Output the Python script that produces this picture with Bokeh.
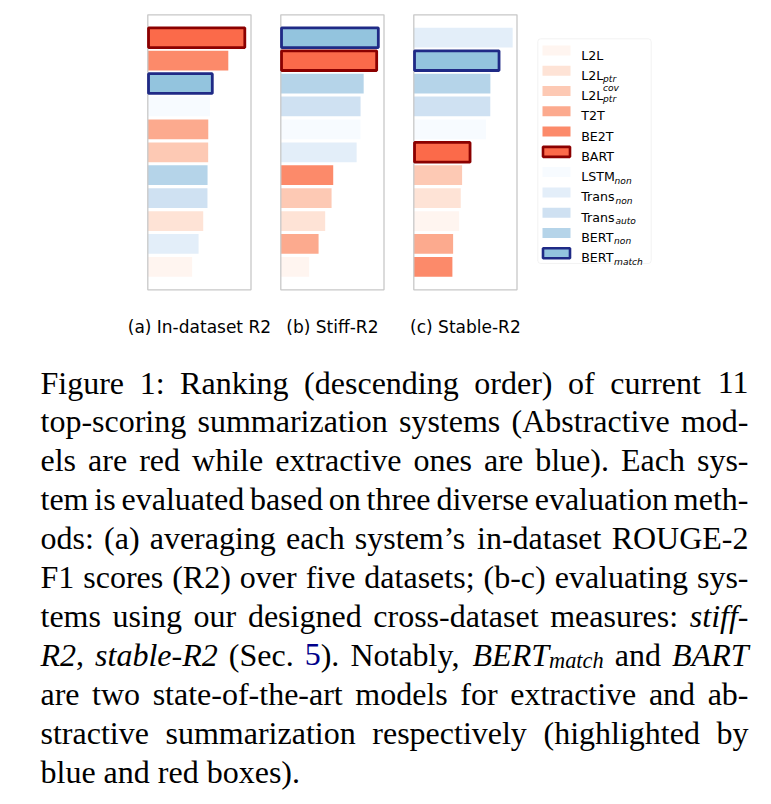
import re
from bokeh.plotting import figure
from bokeh.models import ColumnDataSource, Range1d, BoxAnnotation
from bokeh.embed import file_html
from bokeh.resources import INLINE
from bokeh.core.properties import value

# ---------------- data ----------------
SYSTEMS = ["L2L", "L2L_ptr", "L2L_ptr^cov", "T2T", "BE2T", "BART",
           "LSTM_non", "Trans_non", "Trans_auto", "BERT_non", "BERT_match"]
COLORS = ["#fff5f0", "#fee3d6", "#fdc9b4", "#fcaa8e", "#fc8a6a", "#fb6a4a",
          "#f7fbff", "#e3eef9", "#cfe1f2", "#b5d4e9", "#93c4de"]
LEG_MAIN = ["L2L", "L2L", "L2L", "T2T", "BE2T", "BART", "LSTM", "Trans", "Trans", "BERT", "BERT"]
LEG_SUB = ["", "ptr", "ptr", "", "", "", "non", "non", "auto", "non", "match"]
LEG_SUP = ["", "", "cov", "", "", "", "", "", "", "", ""]
HIGHLIGHT_SYSTEMS = ["BART", "BERT_match"]
HIGHLIGHT_EDGES = ["#8b0000", "#1f2a86"]

PANEL_TITLES = ["(a) In-dataset R2", "(b) Stiff-R2", "(c) Stable-R2"]

RANK_A = ["BART", "BE2T", "BERT_match", "LSTM_non", "T2T", "L2L_ptr^cov",
          "BERT_non", "Trans_auto", "L2L_ptr", "Trans_non", "L2L"]
VAL_A = [0.940, 0.780, 0.625, 0.602, 0.586, 0.585, 0.579, 0.578, 0.537, 0.492, 0.430]

RANK_B = ["BERT_match", "BART", "BERT_non", "Trans_auto", "LSTM_non", "Trans_non",
          "BE2T", "L2L_ptr^cov", "L2L_ptr", "T2T", "L2L"]
VAL_B = [0.945, 0.929, 0.803, 0.773, 0.772, 0.735, 0.508, 0.492, 0.430, 0.366, 0.275]

RANK_C = ["Trans_non", "BERT_match", "BERT_non", "Trans_auto", "LSTM_non", "BART",
          "L2L_ptr^cov", "L2L_ptr", "L2L", "T2T", "BE2T"]
VAL_C = [0.958, 0.826, 0.742, 0.741, 0.700, 0.545, 0.468, 0.455, 0.439, 0.381, 0.374]

CAPTION_LINES = [
    "Figure 1: Ranking (descending order) of current 11",
    "top-scoring summarization systems (Abstractive mod-",
    "els are red while extractive ones are blue). Each sys-",
    "tem is evaluated based on three diverse evaluation meth-",
    "ods: (a) averaging each system\u2019s in-dataset ROUGE-2",
    "F1 scores (R2) over five datasets; (b-c) evaluating sys-",
    "tems using our designed cross-dataset measures: /stiff-/",
    "/R2/, /stable-R2/ (Sec. [5]). Notably, /BERT/_{match} and /BART/",
    "are two state-of-the-art models for extractive and ab-",
    "stractive summarization respectively (highlighted by",
    "blue and red boxes).",
]

# ---------------- font metrics (per 1000 em) ----------------
TIMES_R = dict(zip("abcdefghijklmnopqrstuvwxyz",
                   [444, 500, 444, 500, 444, 333, 500, 500, 278, 278, 500, 278, 778,
                    500, 500, 500, 500, 333, 389, 278, 500, 500, 722, 500, 500, 444]))
TIMES_R.update(zip("ABCDEFGHIJKLMNOPQRSTUVWXYZ",
                   [722, 667, 667, 722, 611, 556, 722, 722, 333, 389, 722, 611, 889,
                    722, 722, 556, 722, 667, 556, 611, 722, 722, 944, 722, 722, 611]))
TIMES_R.update({c: 500 for c in "0123456789"})
TIMES_R.update({" ": 250, "(": 333, ")": 333, ",": 250, "-": 333, ".": 250,
                ":": 278, ";": 278, "\u2019": 333})
TIMES_I = dict(zip("abcdefghijklmnopqrstuvwxyz",
                   [500, 500, 444, 500, 444, 278, 500, 500, 278, 278, 444, 278, 722,
                    500, 500, 500, 500, 389, 389, 278, 500, 444, 667, 444, 444, 389]))
TIMES_I.update(zip("ABCDEFGHIJKLMNOPQRSTUVWXYZ",
                   [611, 611, 667, 722, 611, 611, 722, 722, 333, 444, 667, 556, 833,
                    667, 722, 611, 722, 611, 500, 556, 722, 611, 833, 611, 556, 556]))
TIMES_I.update({c: 500 for c in "0123456789"})
TIMES_I.update({" ": 250, "-": 333, ",": 250, ".": 250})
DEJAVU = {"L": 557, "2": 636, "T": 611, "B": 686, "E": 632, "A": 684, "R": 695,
          "S": 635, "M": 863, "r": 411, "a": 613, "n": 634, "s": 521}
DEJAVU_KERN = {"Tr": -60}


def twidth(s, table, size, kern=None):
    w = sum(table.get(c, 500) for c in s)
    if kern:
        w += sum(kern.get(s[i:i + 2], 0) for i in range(len(s) - 1))
    return w * size / 1000.0


# ---------------- figure (page coordinates in px) ----------------
W, H = 771, 804
p = figure(width=W, height=H, x_range=Range1d(0, W), y_range=Range1d(H, 0),
           output_backend="svg", toolbar_location=None, title=None,
           x_axis_location=None, y_axis_location=None, min_border=0)
p.xgrid.visible = False
p.ygrid.visible = False
p.outline_line_color = None

# panel layout
PANEL_LEFT = [147.3, 280.3, 413.3]
PANEL_W = 103.2
PANEL_TOP = 14.3
PANEL_H = 275.0
N_ROWS = len(SYSTEMS)
SLOT = PANEL_H / (N_ROWS + 1)
p.extra_y_ranges = {"rank": Range1d(start=(H - PANEL_TOP) / SLOT, end=-PANEL_TOP / SLOT)}

color_of = dict(zip(SYSTEMS, COLORS))
edge_of = dict(zip(HIGHLIGHT_SYSTEMS, HIGHLIGHT_EDGES))

for k, (names, vals) in enumerate([(RANK_A, VAL_A), (RANK_B, VAL_B), (RANK_C, VAL_C)]):
    xl = PANEL_LEFT[k]
    name = f"panel{k}"
    p.extra_x_ranges[name] = Range1d(start=-xl / PANEL_W, end=(W - xl) / PANEL_W)
    ranks = list(range(1, len(names) + 1))
    src = ColumnDataSource(dict(y=ranks, right=vals, color=[color_of[s] for s in names]))
    p.hbar(y="y", left=0, right="right", height=0.86, fill_color="color", line_color=None,
           source=src, x_range_name=name, y_range_name="rank")
    p.quad(left=[0], right=[1], bottom=[N_ROWS + 1], top=[0], fill_color=None,
           line_color="#c8c8c8", line_width=1.3, x_range_name=name, y_range_name="rank")
    hl = [i for i, s in enumerate(names) if s in edge_of]
    src2 = ColumnDataSource(dict(y=[ranks[i] for i in hl], right=[vals[i] for i in hl],
                                 color=[color_of[names[i]] for i in hl],
                                 edge=[edge_of[names[i]] for i in hl]))
    p.hbar(y="y", left=0.007, right="right", height=0.86, fill_color="color",
           line_color="edge", line_width=2.8, source=src2, x_range_name=name,
           y_range_name="rank")

p.text(x=[xl + PANEL_W / 2 for xl in PANEL_LEFT], y=[326.5] * 3, text=PANEL_TITLES,
       text_font=value("DejaVu Sans"), text_font_size="17px", text_color="black",
       text_align="center", text_baseline="alphabetic")

# ---------------- legend ----------------
p.add_layout(BoxAnnotation(left=537.3, right=650.7, top=38.3, bottom=263,
                           fill_color="white", fill_alpha=1.0, line_color="#d6d6d6",
                           line_width=1, border_radius=3, level="underlay"))
ROW0, PITCH = 50.0, 20.27
FS = 12.6
SUB_FS = 9.1
PATCH_X = 556.0
ys = [ROW0 + PITCH * i for i in range(N_ROWS)]
p.rect(x=[PATCH_X] * N_ROWS, y=ys, width=28, height=10, fill_color=COLORS, line_color=None)
hl = [i for i, s in enumerate(SYSTEMS) if s in edge_of]
p.rect(x=[PATCH_X] * len(hl), y=[ys[i] for i in hl], width=27, height=10,
       fill_color=[COLORS[i] for i in hl], line_color=[edge_of[SYSTEMS[i]] for i in hl],
       line_width=2.6)
TX = 580.7
p.text(x=[TX] * N_ROWS, y=[y + 4.6 for y in ys], text=LEG_MAIN,
       text_font=value("DejaVu Sans"), text_font_size=f"{FS}px", text_color="black",
       text_baseline="alphabetic")
sx, sy, st = [], [], []
px_, py_, pt_ = [], [], []
for i, (m, sb, sp) in enumerate(zip(LEG_MAIN, LEG_SUB, LEG_SUP)):
    xo = TX + twidth(m, DEJAVU, FS, DEJAVU_KERN) - 0.2
    if sb:
        sx.append(xo); sy.append(ys[i] + 8.4); st.append(sb)
    if sp:
        px_.append(xo); py_.append(ys[i] - 3.4); pt_.append(sp)
p.text(x=sx, y=sy, text=st, text_font=value("DejaVu Sans"), text_font_size=f"{SUB_FS}px",
       text_font_style="italic", text_color="black", text_baseline="alphabetic")
p.text(x=px_, y=py_, text=pt_, text_font=value("DejaVu Sans"), text_font_size=f"{SUB_FS}px",
       text_font_style="italic", text_color="black", text_baseline="alphabetic")

# ---------------- caption ----------------
CFS = 32.0
SUBCFS = 22.4
LEFT, RIGHT = 40.0, 748.0
BASE0, LPITCH = 382.0, 38.9

STYLE = {
    "r": dict(font_style="normal", color="black", size=CFS, table=TIMES_R, dy=0),
    "i": dict(font_style="italic", color="black", size=CFS, table=TIMES_I, dy=0),
    "b": dict(font_style="normal", color="#00008b", size=CFS, table=TIMES_R, dy=0),
    "s": dict(font_style="italic", color="black", size=SUBCFS, table=TIMES_I, dy=6),
}


def parse_word(w):
    segs = []
    for part in re.split(r"(/[^/]+/|\[[^\]]+\]|_\{[^}]+\})", w):
        if not part:
            continue
        if part.startswith("/"):
            segs.append((part[1:-1], "i"))
        elif part.startswith("["):
            segs.append((part[1:-1], "b"))
        elif part.startswith("_{"):
            segs.append((part[2:-1], "s"))
        else:
            segs.append((part, "r"))
    return segs


groups = {}
for li, line in enumerate(CAPTION_LINES):
    base = BASE0 + LPITCH * li
    words = [parse_word(w) for w in line.split(" ")]
    widths = [sum(twidth(t, STYLE[s]["table"], STYLE[s]["size"]) for t, s in wd) for wd in words]
    last = li == len(CAPTION_LINES) - 1
    gap = 0.25 * CFS if last else (RIGHT - LEFT - sum(widths)) / (len(words) - 1)
    x = LEFT
    for wi, (wd, ww) in enumerate(zip(words, widths)):
        if (not last) and wi == len(words) - 1 and len(wd) == 1:
            t, s = wd[0]
            groups.setdefault((s, "right"), []).append((RIGHT, base + STYLE[s]["dy"], t))
        else:
            xx = x
            for t, s in wd:
                groups.setdefault((s, "left"), []).append((xx, base + STYLE[s]["dy"], t))
                xx += twidth(t, STYLE[s]["table"], STYLE[s]["size"])
        x += ww + gap

for (s, align), items in groups.items():
    st_ = STYLE[s]
    src = ColumnDataSource(dict(x=[a for a, _, _ in items], y=[b for _, b, _ in items],
                                t=[c for _, _, c in items]))
    p.text(x="x", y="y", text="t", source=src, text_font=value("Liberation Serif"),
           text_font_size=f"{st_['size']}px", text_font_style=st_["font_style"],
           text_color=st_["color"], text_align=align, text_baseline="alphabetic")

open("out.html", "w").write(file_html(p, INLINE))
